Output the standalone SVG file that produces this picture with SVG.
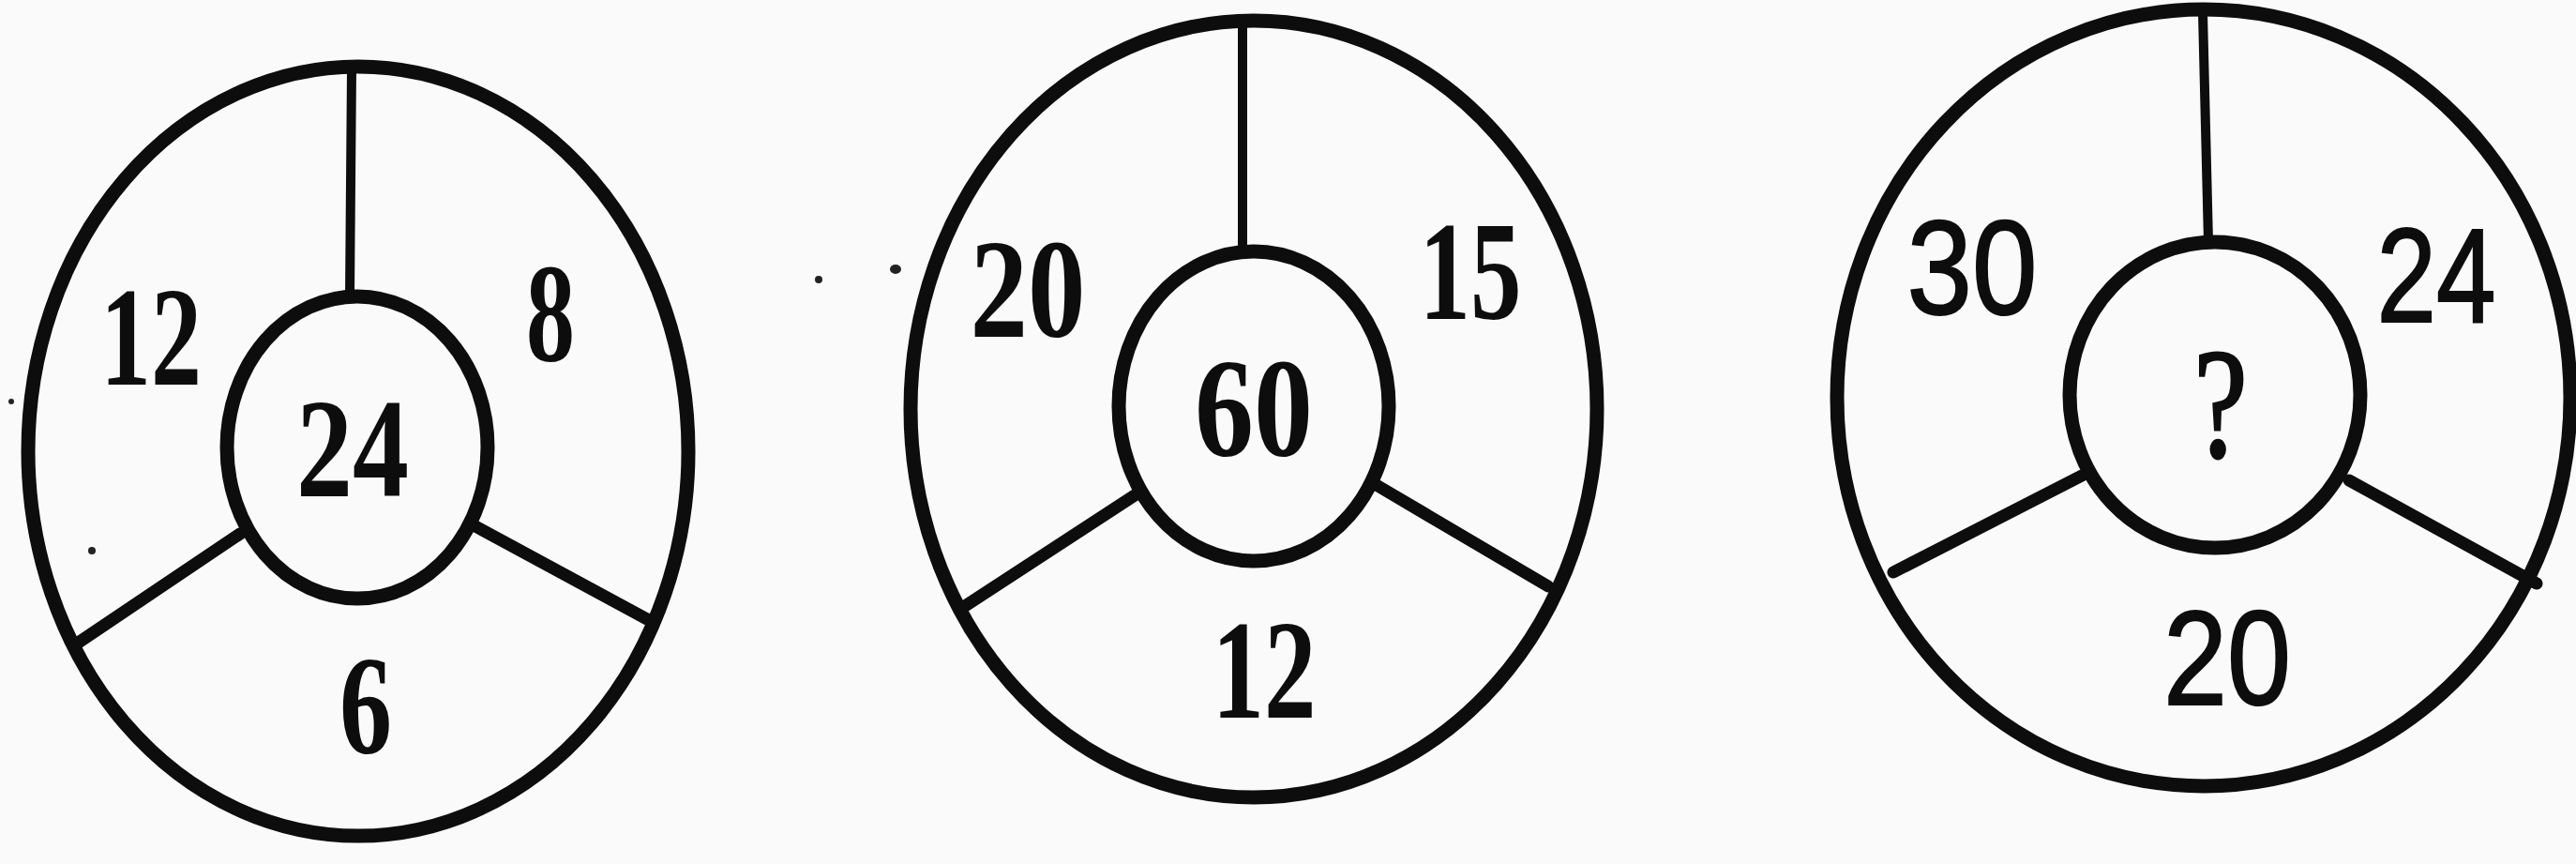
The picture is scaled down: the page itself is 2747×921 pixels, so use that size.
<svg xmlns="http://www.w3.org/2000/svg" width="2747" height="921" viewBox="0 0 2747 921">
  <style>
    .ring { fill: none; stroke: #0d0d0d; stroke-width: 15; }
    .hub { fill: none; stroke: #0d0d0d; stroke-width: 15; }
    .spoke { stroke: #0d0d0d; stroke-width: 10; stroke-linecap: round; }
    .spoke2 { stroke: #0d0d0d; stroke-width: 13; stroke-linecap: round; }
    .num { font-family: "Liberation Serif", "Times New Roman", serif; font-weight: bold; font-size: 150px; fill: #0d0d0d; text-anchor: middle; }
    .q { font-family: "Liberation Serif", "Times New Roman", serif; font-size: 168px; fill: #0d0d0d; stroke: #0d0d0d; stroke-width: 3; text-anchor: middle; }
    .sans { font-family: "Liberation Sans", Arial, sans-serif; font-size: 142px; fill: #0d0d0d; stroke: #0d0d0d; stroke-width: 2; text-anchor: middle; }
    .dot { fill: #222; }
  </style>
  <rect width="2747" height="921" fill="#fafafa"/>

  <g id="wheel1">
    <ellipse class="ring" cx="382" cy="481" rx="352" ry="410"/>
    <ellipse class="hub" cx="381" cy="477" rx="139" ry="161"/>
    <line class="spoke" x1="375" y1="74" x2="373" y2="316"/>
    <line class="spoke2" x1="505" y1="560" x2="690" y2="660"/>
    <line class="spoke2" x1="256" y1="569" x2="82" y2="686"/>
    <text class="num" x="161" y="410" textLength="108" lengthAdjust="spacingAndGlyphs">12</text>
    <text class="num" x="587" y="385" textLength="52" lengthAdjust="spacingAndGlyphs">8</text>
    <text class="num" x="376" y="529" textLength="120" lengthAdjust="spacingAndGlyphs">24</text>
    <text class="num" x="390" y="803" textLength="56" lengthAdjust="spacingAndGlyphs">6</text>
  </g>

  <g id="wheel2">
    <ellipse class="ring" cx="1337" cy="436" rx="366" ry="414"/>
    <ellipse class="hub" cx="1337" cy="433" rx="144" ry="165"/>
    <line class="spoke" x1="1325" y1="26" x2="1325" y2="268"/>
    <line class="spoke2" x1="1466" y1="516" x2="1651" y2="625"/>
    <line class="spoke2" x1="1210" y1="528" x2="1026" y2="648"/>
    <text class="num" x="1096" y="359" textLength="123" lengthAdjust="spacingAndGlyphs">20</text>
    <text class="num" x="1568" y="340" textLength="109" lengthAdjust="spacingAndGlyphs">15</text>
    <text class="num" x="1337" y="486" textLength="126" lengthAdjust="spacingAndGlyphs">60</text>
    <text class="num" x="1348" y="765" textLength="111" lengthAdjust="spacingAndGlyphs">12</text>
  </g>

  <g id="wheel3">
    <ellipse class="ring" cx="2350" cy="424" rx="391" ry="414"/>
    <ellipse class="hub" cx="2362" cy="421" rx="155" ry="163"/>
    <line class="spoke" x1="2349" y1="14" x2="2355" y2="258"/>
    <line class="spoke2" x1="2505" y1="512" x2="2705" y2="622"/>
    <line class="spoke2" x1="2222" y1="506" x2="2019" y2="610"/>
    <text class="sans" x="2103" y="335" textLength="139" lengthAdjust="spacingAndGlyphs">30</text>
    <text class="sans" x="2598" y="343" textLength="127" lengthAdjust="spacingAndGlyphs">24</text>
    <text class="q" x="2368" y="487" textLength="57" lengthAdjust="spacingAndGlyphs">?</text>
    <text class="sans" x="2375" y="751" textLength="136" lengthAdjust="spacingAndGlyphs">20</text>
  </g>

  <g id="specks">
    <circle class="dot" cx="12" cy="428" r="3"/>
    <circle class="dot" cx="98" cy="587" r="4"/>
    <circle class="dot" cx="873" cy="298" r="4"/>
    <ellipse class="dot" cx="955" cy="287" rx="6" ry="5"/>
  </g>
</svg>
